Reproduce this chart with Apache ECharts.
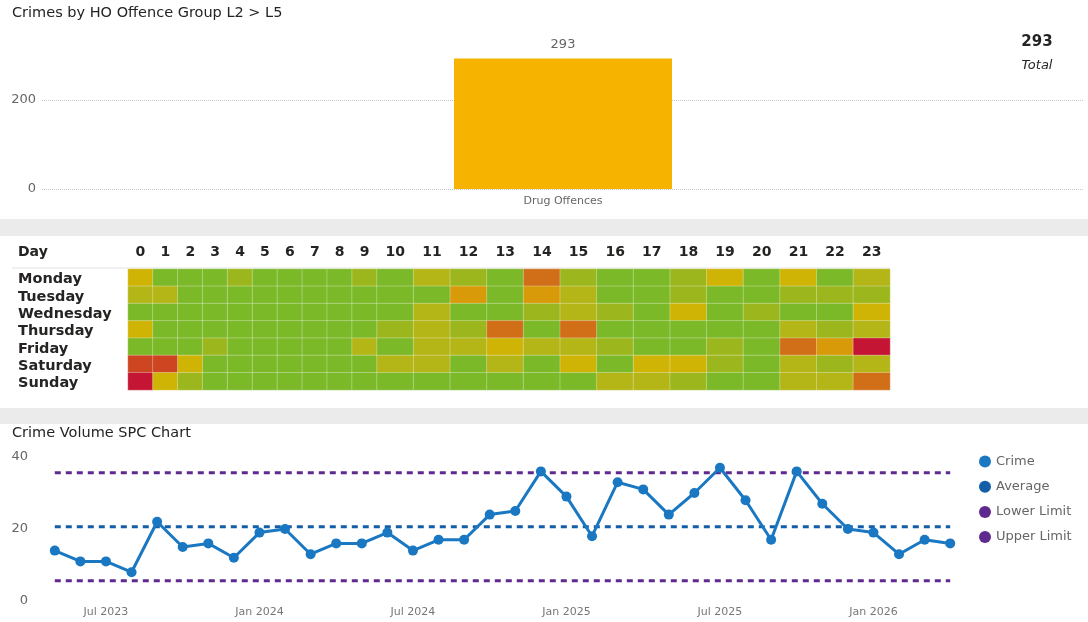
<!DOCTYPE html>
<html>
<head>
<meta charset="utf-8">
<title>Crime dashboard</title>
<script src="https://cdn.jsdelivr.net/npm/echarts@6/dist/echarts.min.js"></script>
<style>
  html, body { margin: 0; padding: 0; background: #fff; }
  #chart { width: 1088px; height: 622px; }
</style>
</head>
<body>
<div id="chart"></div>
<script>
// offence group bar
var offenceGroups = ['Drug Offences'];
var offenceCounts = [293];

// day x hour heatmap (hours split: narrow 0-9, wide 10-23 columns)
var days = ['Monday', 'Tuesday', 'Wednesday', 'Thursday', 'Friday', 'Saturday', 'Sunday'];
var hoursEarly = ['0', '1', '2', '3', '4', '5', '6', '7', '8', '9'];
var hoursLate = ['10', '11', '12', '13', '14', '15', '16', '17', '18', '19', '20', '21', '22', '23'];
var hourCounts = [
  [4, 1, 1, 1, 2, 1, 1, 1, 1, 2, 1, 3, 2, 1, 6, 2, 1, 1, 2, 4, 1, 4, 1, 3],
  [3, 3, 1, 1, 1, 1, 1, 1, 1, 1, 1, 1, 5, 1, 5, 3, 1, 1, 2, 1, 1, 2, 2, 2],
  [1, 1, 1, 1, 1, 1, 1, 1, 1, 1, 1, 3, 1, 1, 2, 3, 2, 1, 4, 1, 2, 1, 1, 4],
  [4, 1, 1, 1, 1, 1, 1, 1, 1, 1, 2, 3, 2, 6, 1, 6, 1, 1, 1, 1, 1, 3, 2, 3],
  [1, 1, 1, 2, 1, 1, 1, 1, 1, 3, 1, 3, 3, 4, 3, 3, 2, 1, 1, 2, 1, 6, 5, 8],
  [7, 7, 4, 1, 1, 1, 1, 1, 1, 1, 3, 3, 1, 3, 1, 4, 1, 4, 4, 2, 1, 3, 2, 3],
  [8, 4, 2, 1, 1, 1, 1, 1, 1, 1, 1, 1, 1, 1, 1, 1, 3, 3, 2, 1, 1, 3, 3, 6]
];
var heatColors = ['#7bb929', '#9cb71e', '#b4b516', '#cfb406', '#d89a08', '#d16e18', '#cd4521', '#c41634'];

// SPC chart
var months = [
  '2023-05', '2023-06', '2023-07', '2023-08', '2023-09', '2023-10', '2023-11', '2023-12',
  '2024-01', '2024-02', '2024-03', '2024-04', '2024-05', '2024-06', '2024-07', '2024-08',
  '2024-09', '2024-10', '2024-11', '2024-12', '2025-01', '2025-02', '2025-03', '2025-04',
  '2025-05', '2025-06', '2025-07', '2025-08', '2025-09', '2025-10', '2025-11', '2025-12',
  '2026-01', '2026-02', '2026-03', '2026-04'
];
var crimeCounts = [
  14, 11, 11, 8, 22, 15, 16, 12, 19, 20, 13, 16, 16, 19, 14, 17, 17, 24,
  25, 36, 29, 18, 33, 31, 24, 30, 37, 28, 17, 36, 27, 20, 19, 13, 17, 16
];
var averageValue = 20.6;
var lowerLimitValue = 5.6;
var upperLimitValue = 35.6;
var monthNames = ['Jan', 'Feb', 'Mar', 'Apr', 'May', 'Jun', 'Jul', 'Aug', 'Sep', 'Oct', 'Nov', 'Dec'];

var earlyData = [];
var lateData = [];
hourCounts.forEach(function (row, d) {
  row.forEach(function (v, h) {
    if (h < 10) {
      earlyData.push([h, d, v]);
    } else {
      lateData.push([h - 10, d, v]);
    }
  });
});

var total = offenceCounts.reduce(function (a, b) { return a + b; }, 0);
var FONT = 'DejaVu Sans';
var dark = '#252423';
var grey = '#666666';

var chart = echarts.init(document.getElementById('chart'));

var heatXAxis = function (gridIndex, labels) {
  return {
    type: 'category',
    gridIndex: gridIndex,
    position: 'top',
    data: labels,
    axisLine: { show: false },
    axisTick: { show: false },
    axisLabel: { color: dark, fontWeight: 'bold', fontSize: 14, fontFamily: FONT, margin: 10, interval: 0 },
    splitLine: { show: false }
  };
};
var spcLine = function (name, value, color) {
  return {
    name: name,
    type: 'line',
    xAxisIndex: 3,
    yAxisIndex: 3,
    data: months.map(function () { return value; }),
    symbol: 'none',
    color: color,
    lineStyle: { color: color, width: 3, type: [6, 5] },
    silent: true,
    z: 2
  };
};

chart.setOption({
  animation: false,
  textStyle: { fontFamily: FONT },
  title: [
    { text: 'Crimes by HO Offence Group L2 > L5', left: 12, top: 6, padding: 0,
      textStyle: { fontSize: 14.5, fontWeight: 'normal', color: dark } },
    { text: String(total), subtext: 'Total', left: 1037, top: 35, textAlign: 'center', itemGap: 9, padding: 0,
      textStyle: { fontSize: 15, fontWeight: 'bold', color: dark },
      subtextStyle: { fontSize: 13, fontStyle: 'italic', color: dark } },
    { text: 'Crime Volume SPC Chart', left: 12, top: 426, padding: 0,
      textStyle: { fontSize: 14.5, fontWeight: 'normal', color: dark } }
  ],
  graphic: [
    { type: 'rect', shape: { x: 0, y: 219, width: 1088, height: 17 }, style: { fill: '#ebebeb' }, silent: true },
    { type: 'rect', shape: { x: 0, y: 408, width: 1088, height: 16 }, style: { fill: '#ebebeb' }, silent: true },
    { type: 'line', shape: { x1: 12, y1: 268, x2: 890, y2: 268 }, style: { stroke: '#e3e3e3', lineWidth: 1 }, silent: true },
    { type: 'text', left: 18, top: 245, style: { text: 'Day', fill: dark, font: 'bold 14px "DejaVu Sans"' }, silent: true }
  ],
  legend: {
    data: ['Crime', 'Average', 'Lower Limit', 'Upper Limit'],
    orient: 'vertical',
    left: 974,
    top: 450,
    icon: 'circle',
    itemWidth: 12,
    itemHeight: 12,
    itemGap: 12.2,
    selectedMode: false,
    textStyle: { color: grey, fontSize: 13 }
  },
  visualMap: {
    type: 'continuous',
    show: false,
    seriesIndex: [1, 2],
    min: 1,
    max: 8,
    inRange: { color: heatColors }
  },
  grid: [
    { left: 42, right: 4, top: 55.5, height: 133.5 },
    { left: 128, top: 269, width: 249, height: 121 },
    { left: 377, top: 269, width: 513, height: 121 },
    { left: 42, top: 457, width: 921, height: 144 }
  ],
  xAxis: [
    {
      type: 'category',
      gridIndex: 0,
      data: offenceGroups,
      axisLine: { show: false },
      axisTick: { show: false },
      axisLabel: { color: grey, fontSize: 11, margin: 7 }
    },
    heatXAxis(1, hoursEarly),
    heatXAxis(2, hoursLate),
    {
      type: 'category',
      gridIndex: 3,
      data: months,
      axisLine: { show: false },
      axisTick: { show: false },
      axisLabel: {
        color: '#777777',
        fontSize: 11,
        margin: 6,
        interval: function (i, v) {
          var m = v.split('-')[1];
          return m === '01' || m === '07';
        },
        formatter: function (v) {
          var p = v.split('-');
          return monthNames[parseInt(p[1], 10) - 1] + ' ' + p[0];
        }
      }
    }
  ],
  yAxis: [
    {
      type: 'value',
      gridIndex: 0,
      min: 0,
      max: 300,
      interval: 200,
      axisLine: { show: false },
      axisTick: { show: false },
      axisLabel: { color: grey, fontSize: 13, margin: 6, showMaxLabel: false },
      splitLine: { showMaxLine: false, lineStyle: { color: '#c8c8c8', type: 'dotted' } }
    },
    {
      type: 'category',
      gridIndex: 1,
      data: days,
      inverse: true,
      axisLine: { show: false },
      axisTick: { show: false },
      axisLabel: {
        color: dark, fontWeight: 'bold', fontSize: 14.5, fontFamily: FONT,
        align: 'left', margin: 110, interval: 0, hideOverlap: false,
        formatter: function (v) { return '{d|' + v + '}'; },
        rich: { d: { color: dark, fontWeight: 'bold', fontSize: 14.5, fontFamily: FONT, padding: [4, 0, 0, 0] } }
      },
      splitLine: { show: false }
    },
    {
      type: 'category',
      gridIndex: 2,
      data: days,
      inverse: true,
      axisLine: { show: false },
      axisTick: { show: false },
      axisLabel: { show: false },
      splitLine: { show: false }
    },
    {
      type: 'value',
      gridIndex: 3,
      min: 0,
      max: 40,
      interval: 20,
      axisLine: { show: false },
      axisTick: { show: false },
      axisLabel: { color: grey, fontSize: 13, margin: 14 },
      splitLine: { show: false }
    }
  ],
  series: [
    {
      type: 'bar',
      xAxisIndex: 0,
      yAxisIndex: 0,
      data: offenceCounts,
      barWidth: 218,
      itemStyle: { color: '#f6b400' },
      label: { show: true, position: 'top', distance: 7, color: grey, fontSize: 13 },
      silent: true
    },
    {
      type: 'heatmap',
      xAxisIndex: 1,
      yAxisIndex: 1,
      data: earlyData,
      itemStyle: { borderColor: 'rgba(255,255,255,0.3)', borderWidth: 1 },
      silent: true
    },
    {
      type: 'heatmap',
      xAxisIndex: 2,
      yAxisIndex: 2,
      data: lateData,
      itemStyle: { borderColor: 'rgba(255,255,255,0.3)', borderWidth: 1 },
      silent: true
    },
    {
      name: 'Crime',
      type: 'line',
      xAxisIndex: 3,
      yAxisIndex: 3,
      data: crimeCounts,
      color: '#1a78c2',
      symbol: 'circle',
      symbolSize: 10,
      lineStyle: { width: 3, color: '#1a78c2' },
      itemStyle: { color: '#1a78c2' },
      silent: true,
      z: 5
    },
    spcLine('Average', averageValue, '#135ea6'),
    spcLine('Lower Limit', lowerLimitValue, '#5f2a8f'),
    spcLine('Upper Limit', upperLimitValue, '#5f2a8f')
  ]
});

window.addEventListener('resize', function () {
  chart.resize();
});
</script>
</body>
</html>
